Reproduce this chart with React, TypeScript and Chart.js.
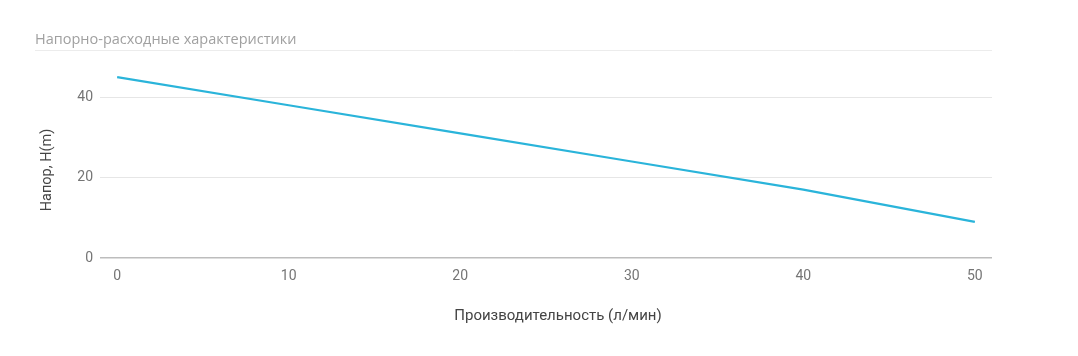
import React, { useEffect, useRef } from "react";
import { Chart, registerables } from "chart.js";

Chart.register(...registerables);

const chartTitle = "Напорно-расходные характеристики";
const xAxisTitle = "Производительность (л/мин)";
const yAxisTitle = "Напор, H(m)";
const flow = [0, 10, 20, 30, 40, 50];
const head = [45, 38, 31, 24, 17, 9];
const xTicks = [0, 10, 20, 30, 40, 50];
const yTicks = [0, 20, 40];

const textPlugin = {
  id: "textPlugin",
  afterDraw(chart: any) {
    const ctx = chart.ctx;
    const area = chart.chartArea;
    ctx.save();
    // header title
    ctx.fillStyle = "#a0a0a0";
    ctx.font = "14.5px 'Open Sans'";
    ctx.textAlign = "left";
    ctx.textBaseline = "alphabetic";
    ctx.fillText(chartTitle, 35, 44);
    // separator
    ctx.strokeStyle = "#ececec";
    ctx.lineWidth = 1;
    ctx.beginPath();
    ctx.moveTo(35, 50.5);
    ctx.lineTo(area.right, 50.5);
    ctx.stroke();
    // x axis title
    ctx.fillStyle = "#444444";
    ctx.font = "15px Roboto";
    ctx.textAlign = "center";
    ctx.textBaseline = "middle";
    ctx.fillText(xAxisTitle, 558, 316);
    // y axis title
    ctx.font = "14.5px Roboto";
    ctx.translate(47, 170);
    ctx.rotate(-Math.PI / 2);
    ctx.fillText(yAxisTitle, 0, 0);
    ctx.restore();
  },
};

export default function App() {
  const ref = useRef<HTMLCanvasElement | null>(null);
  useEffect(() => {
    if (!ref.current) return;
    const chart = new Chart(ref.current, {
      type: "line",
      data: {
        datasets: [
          {
            data: flow.map((x, i) => ({ x, y: head[i] })),
            borderColor: "#2ab4da",
            borderWidth: 2.2,
            pointRadius: 0,
            tension: 0,
            fill: false,
          },
        ],
      },
      options: {
        animation: false,
        responsive: true,
        maintainAspectRatio: false,
        layout: { padding: { left: 30, right: 86, top: 57, bottom: 0 } },
        plugins: { legend: { display: false }, tooltip: { enabled: false }, title: { display: false } },
        scales: {
          x: {
            type: "linear",
            min: -1,
            max: 51,
            afterBuildTicks: (s: any) => {
              s.ticks = xTicks.map((v) => ({ value: v }));
            },
            afterFit: (s: any) => {
              s.height = 98;
            },
            grid: { display: false, drawTicks: false },
            border: { display: false },
            ticks: {
              padding: 10,
              color: "#757575",
              font: { family: "Roboto", size: 14 },
              maxRotation: 0,
            },
          },
          y: {
            type: "linear",
            min: 0,
            max: 50,
            afterBuildTicks: (s: any) => {
              s.ticks = yTicks.map((v) => ({ value: v }));
            },
            afterFit: (s: any) => {
              s.width = 70;
            },
            grid: {
              drawTicks: false,
              color: (c: any) => (c.tick && c.tick.value === 0 ? "#bdbdbd" : "#e6e6e6"),
              lineWidth: (c: any) => (c.tick && c.tick.value === 0 ? 1.5 : 1),
            },
            border: { display: false },
            ticks: {
              padding: 7,
              color: "#757575",
              font: { family: "Roboto", size: 14 },
            },
          },
        },
      },
      plugins: [textPlugin],
    });
    return () => chart.destroy();
  }, []);
  return (
    <div style={{ position: "fixed", left: 0, top: 0, width: 1078, height: 356, background: "#fff" }}>
      <canvas ref={ref} />
    </div>
  );
}
